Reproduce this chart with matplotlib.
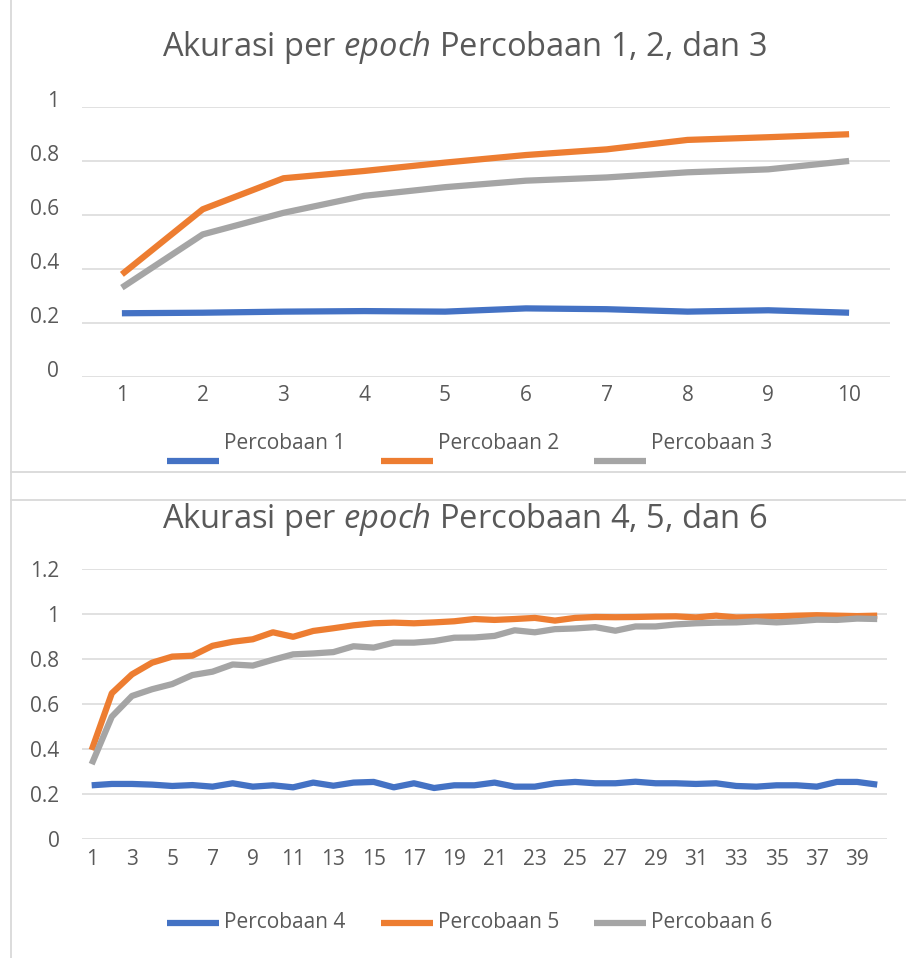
import numpy as np
import matplotlib
matplotlib.use("Agg")
import matplotlib.pyplot as plt
from matplotlib.lines import Line2D

plt.rcParams['font.family'] = ['Open Sans', 'DejaVu Sans']
plt.rcParams['mathtext.fontset'] = 'custom'
plt.rcParams['mathtext.rm'] = 'Open Sans'
plt.rcParams['mathtext.it'] = 'Open Sans:italic'

# data chart 1
epoch_a = np.arange(1, 11)
p1 = [0.235, 0.237, 0.241, 0.243, 0.241, 0.253, 0.250, 0.241, 0.246, 0.237]
p2 = [0.379, 0.620, 0.735, 0.762, 0.793, 0.821, 0.842, 0.877, 0.887, 0.898]
p3 = [0.330, 0.527, 0.607, 0.670, 0.702, 0.726, 0.738, 0.757, 0.768, 0.799]

# data chart 2
epoch_b = np.arange(1, 41)
p4 = [0.240, 0.246, 0.246, 0.243, 0.237, 0.241, 0.234, 0.249, 0.234, 0.240,
      0.231, 0.252, 0.238, 0.252, 0.255, 0.231, 0.249, 0.228, 0.240, 0.240,
      0.252, 0.234, 0.234, 0.249, 0.255, 0.249, 0.249, 0.256, 0.249, 0.249,
      0.246, 0.249, 0.237, 0.234, 0.240, 0.240, 0.234, 0.255, 0.255, 0.243]
p5 = [0.397, 0.649, 0.733, 0.785, 0.812, 0.816, 0.860, 0.878, 0.889, 0.920,
      0.900, 0.926, 0.938, 0.951, 0.960, 0.963, 0.960, 0.964, 0.969, 0.979,
      0.975, 0.979, 0.984, 0.972, 0.984, 0.988, 0.987, 0.988, 0.990, 0.991,
      0.986, 0.994, 0.986, 0.988, 0.991, 0.994, 0.996, 0.994, 0.992, 0.994]
p6 = [0.334, 0.545, 0.637, 0.667, 0.690, 0.730, 0.745, 0.777, 0.772, 0.798,
      0.822, 0.826, 0.832, 0.858, 0.852, 0.874, 0.874, 0.881, 0.896, 0.897,
      0.904, 0.929, 0.920, 0.934, 0.937, 0.943, 0.927, 0.946, 0.946, 0.955,
      0.960, 0.963, 0.964, 0.969, 0.964, 0.969, 0.976, 0.975, 0.981, 0.979]

names_a = ['Percobaan 1', 'Percobaan 2', 'Percobaan 3']
names_b = ['Percobaan 4', 'Percobaan 5', 'Percobaan 6']
colors = ['#4472C4', '#ED7D31', '#A5A5A5']
txt = '#595959'
grid = '#D9D9D9'

W, H = 906, 958
fig = plt.figure(figsize=(W / 100, H / 100), dpi=100)


def fx(px):
    return px / W


def fy(py):
    return 1 - py / H


# chart borders
fig.add_artist(Line2D([fx(11), fx(11)], [0, 1], color=grid, lw=1.3))
fig.add_artist(Line2D([fx(11), 1], [fy(471.5), fy(471.5)], color=grid, lw=1.3))
fig.add_artist(Line2D([fx(11), 1], [fy(500), fy(500)], color=grid, lw=1.3))


def setup(ax, ymax, step):
    ax.set_ylim(0, ymax)
    yt = np.round(np.arange(0, ymax + 0.001, step), 1)
    ax.set_yticks(yt)
    ax.set_yticklabels(['%g' % v for v in yt])
    ax.grid(axis='y', color=grid, lw=1.1)
    ax.set_axisbelow(True)
    for s in ax.spines.values():
        s.set_visible(False)
    ax.tick_params(length=0, labelsize=15, labelcolor=txt)
    ax.tick_params(axis='y', pad=16)


def legend(names, y_line, y_text):
    xs = [167, 381, 594]
    for x0, n, c in zip(xs, names, colors):
        fig.add_artist(Line2D([fx(x0), fx(x0 + 52)], [fy(y_line), fy(y_line)],
                              color=c, lw=4.5, solid_capstyle='butt'))
        fig.text(fx(x0 + 57), fy(y_text), n, fontsize=15, color=txt,
                 ha='left', va='center')


# chart 1
ax1 = fig.add_axes([fx(81.5), fy(376.7), fx(808), 270 / H])
for ys, n, c in zip([p1, p2, p3], names_a, colors):
    ax1.plot(epoch_a, ys, color=c, lw=4.5, solid_capstyle='butt',
             solid_joinstyle='round', label=n)
ax1.set_xlim(0.5, 10.5)
ax1.set_xticks(epoch_a)
setup(ax1, 1.0, 0.2)
ax1.tick_params(axis='x', pad=6)
plt.setp(ax1.get_yticklabels(), va='baseline')
fig.text(fx(464), fy(47), r'Akurasi per $\mathit{epoch}$ Percobaan 1, 2, dan 3',
         fontsize=23.5, color=txt, ha='center', va='center')
legend(names_a, 461, 443)

# chart 2
ax2 = fig.add_axes([fx(81.6), fy(839.3), fx(805.7), 270 / H])
for ys, n, c in zip([p4, p5, p6], names_b, colors):
    ax2.plot(epoch_b, ys, color=c, lw=4.5, solid_capstyle='butt',
             solid_joinstyle='round', label=n)
ax2.set_xlim(0.5, 40.5)
ax2.set_xticks(epoch_b[::2])
setup(ax2, 1.2, 0.2)
ax2.tick_params(axis='x', pad=7)
fig.text(fx(465), fy(520), r'Akurasi per $\mathit{epoch}$ Percobaan 4, 5, dan 6',
         fontsize=23.5, color=txt, ha='center', va='center')
legend(names_b, 923, 922)

fig.savefig('out.png', dpi=100, facecolor='white')
